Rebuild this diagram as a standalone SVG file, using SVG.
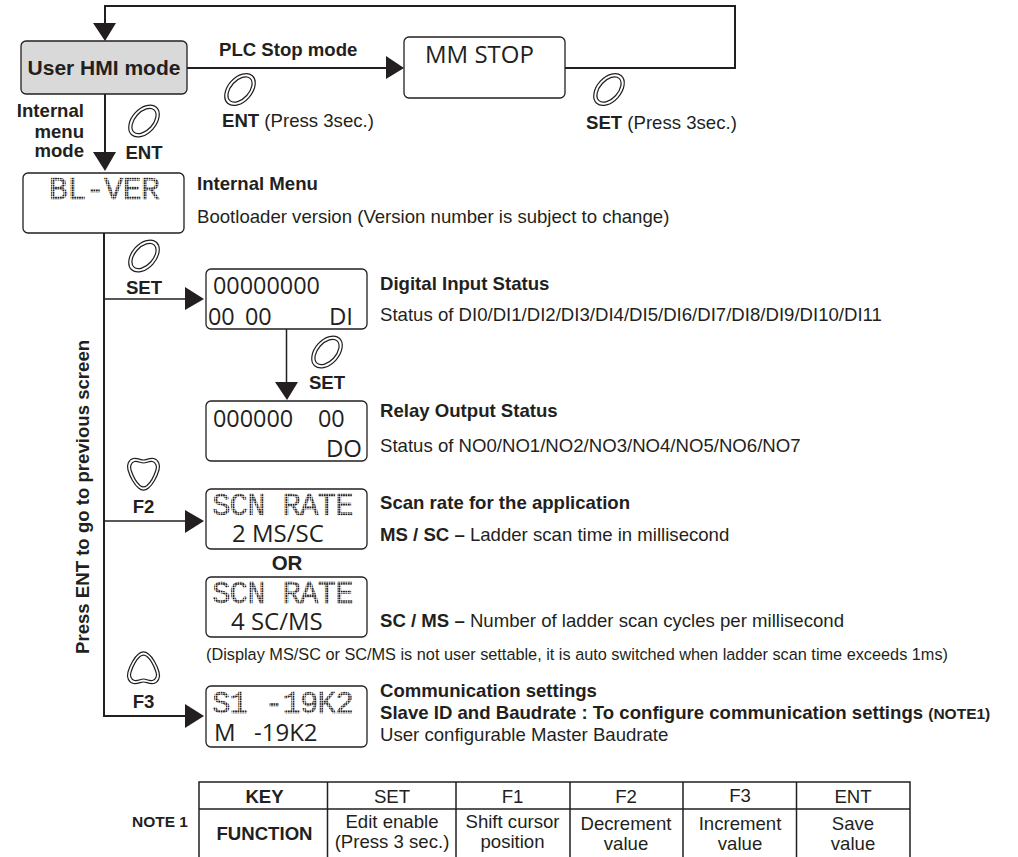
<svg xmlns="http://www.w3.org/2000/svg" width="1018" height="857" viewBox="0 0 1018 857">
<style>
text{font-family:"Liberation Sans",Arial,sans-serif;fill:#231f20;font-size:18.600px}
.b{font-weight:bold}
.m{text-anchor:middle}
.e{text-anchor:end}
.box{fill:#fff;stroke:#231f20;stroke-width:1.3}
.line{fill:none;stroke:#231f20;stroke-width:2}
.thin{stroke-width:1.5}
.arrow{fill:#231f20}
text.lcd{font-family:"Open Sans","Noto Sans",sans-serif;font-size:24px}
text.num{font-size:23.400px}
text.dot{font-family:"Liberation Mono",monospace;font-size:31px;letter-spacing:-1px;fill:url(#dots);stroke:url(#dots);stroke-width:.4}
.btn{fill:#fff;stroke:#231f20;stroke-width:1.2}
.cell{fill:none;stroke:#231f20;stroke-width:1.5}
</style>
<defs>
<pattern id="dots" patternUnits="userSpaceOnUse" width="2.400" height="2.400"><rect width="1.800" height="1.800" fill="#231f20"/></pattern>
<g id="round"><ellipse rx="12" ry="18.500" transform="rotate(42)" class="btn"/><ellipse rx="9" ry="15" transform="rotate(42)" class="btn"/></g>
<g id="down"><path class="btn" d="M-10-15.500C-5-16-3-14 0-14S5-16 10-15.500C15-14.500 17-9 15.500-4C13.500 3 9 11 5 14C2 16.500-2 16.500-5 14C-9 11-13.500 3-15.500-4C-17-9-15-14.500-10-15.500Z"/><path class="btn" d="M-9-12.500C-5-13-3-11 0-11S5-13 9-12.500C12-11.500 14-8 12.500-4C10.500 2 7 8.500 3.500 11.500C1 13.500-1 13.500-3.500 11.500C-7 8.500-10.500 2-12.500-4C-14-8-12-11.500-9-12.500Z"/></g>
<g id="up"><path class="btn" d="M-10 15.500C-5 16-3 14 0 14S5 16 10 15.500C15 14.500 17 9 15.500 4C13.500-3 9-11 5-14C2-16.500-2-16.500-5-14C-9-11-13.500-3-15.500 4C-17 9-15 14.500-10 15.500Z"/><path class="btn" d="M-9 12.500C-5 13-3 11 0 11S5 13 9 12.500C12 11.500 14 8 12.500 4C10.500-2 7-8.500 3.500-11.500C1-13.500-1-13.500-3.500-11.500C-7-8.500-10.500-2-12.500 4C-14 8-12 11.500-9 12.500Z"/></g>
</defs>

<g id="connectors">
<path class="line" d="M105 25V6H735V68H564"/>
<path class="arrow" d="M93 23H116L105 41Z"/>
<path class="line" d="M187 68H388"/>
<path class="arrow" d="M386 56V79L404 68Z"/>
<path class="line" d="M105 94V155"/>
<path class="arrow" d="M93 152H116L105 171Z"/>
<path class="line" d="M104 233V716H187"/>
<path class="line thin" d="M104 299H187"/>
<path class="arrow" d="M185 287V310L204 299Z"/>
<path class="line thin" d="M286.500 329V384"/>
<path class="arrow" d="M275 382H298L287 400Z"/>
<path class="line thin" d="M104 521H187"/>
<path class="arrow" d="M185 510V533L204 521Z"/>
<path class="arrow" d="M185 704V728L204 716Z"/>
</g>

<g id="node-hmi"><rect x="21" y="41" width="166" height="53" rx="5" fill="#d9d9d9" stroke="#231f20" stroke-width="1.300"/><text class="b m" x="104" y="75" style="font-size:21px">User HMI mode</text></g>
<g id="node-mmstop"><rect class="box" x="404" y="37" width="161" height="61" rx="5"/><text class="lcd" x="425" y="63">MM STOP</text></g>
<g id="node-blver"><rect class="box" x="23" y="173" width="161" height="60" rx="5"/><text class="dot m" x="104" y="199" style="font-size:32px;letter-spacing:-.8px">BL-VER</text></g>
<g id="node-di"><rect class="box" x="206" y="269" width="161" height="60" rx="5"/><text class="lcd num" x="213" y="294">00000000</text><text class="lcd num" x="208" y="325">00<tspan x="245">00</tspan></text><text class="lcd e" x="353" y="325">DI</text></g>
<g id="node-do"><rect class="box" x="206" y="401" width="161" height="60" rx="5"/><text class="lcd num" x="213" y="427">000000</text><text class="lcd num" x="318" y="427">00</text><text class="lcd e" x="362" y="457">DO</text></g>
<g id="node-scn1"><rect class="box" x="206" y="489" width="161" height="60" rx="5"/><text class="dot" x="212" y="515">SCN RATE</text><text class="lcd" x="232" y="542">2 MS/SC</text></g>
<g id="node-scn2"><rect class="box" x="206" y="577" width="161" height="60" rx="5"/><text class="dot" x="212" y="603">SCN RATE</text><text class="lcd" x="231" y="630">4 SC/MS</text></g>
<g id="node-s1"><rect class="box" x="206" y="686" width="161" height="61" rx="5"/><text class="dot" x="212" y="713">S1 -19K2</text><text class="lcd" x="214" y="741">M<tspan x="254">-19K2</tspan></text></g>

<g id="buttons">
<use href="#round" x="240" y="89.500"/>
<use href="#round" x="144" y="121"/>
<use href="#round" x="609" y="89.500"/>
<use href="#round" x="144" y="256"/>
<use href="#round" x="327" y="352"/>
<use href="#down" x="143.500" y="474"/>
<use href="#up" x="143.500" y="668"/>
</g>

<g id="labels">
<text class="b" x="219" y="56">PLC Stop mode</text>
<text x="222" y="127"><tspan class="b">ENT</tspan> (Press 3sec.)</text>
<text x="586" y="129"><tspan class="b">SET</tspan> (Press 3sec.)</text>
<text class="b e" x="84" y="117">Internal</text>
<text class="b e" x="84" y="138">menu</text>
<text class="b e" x="84" y="157">mode</text>
<text class="b m" x="144" y="159">ENT</text>
<text class="b m" x="144" y="294">SET</text>
<text class="b m" x="327" y="389">SET</text>
<text class="b m" x="143.500" y="513">F2</text>
<text class="b m" x="143.500" y="708">F3</text>
<text class="b m" x="287" y="570" style="font-size:20.500px">OR</text>
<text class="b" transform="translate(89 654) rotate(-90)">Press ENT to go to previous screen</text>
<text class="b" x="197" y="190">Internal Menu</text>
<text x="197" y="223">Bootloader version (Version number is subject to change)</text>
<text class="b" x="380" y="290">Digital Input Status</text>
<text x="380" y="321">Status of DI0/DI1/DI2/DI3/DI4/DI5/DI6/DI7/DI8/DI9/DI10/DI11</text>
<text class="b" x="380" y="417">Relay Output Status</text>
<text x="380" y="452">Status of NO0/NO1/NO2/NO3/NO4/NO5/NO6/NO7</text>
<text class="b" x="380" y="509">Scan rate for the application</text>
<text x="380" y="541"><tspan class="b">MS / SC  –</tspan> Ladder scan time in millisecond</text>
<text x="380" y="627"><tspan class="b">SC / MS –</tspan> Number of ladder scan cycles per millisecond</text>
<text x="206" y="660" style="font-size:16.300px">(Display MS/SC or SC/MS is not user settable, it is auto switched when ladder scan time exceeds 1ms)</text>
<text class="b" x="380" y="697">Communication settings</text>
<text class="b" x="380" y="719">Slave ID and Baudrate : To configure communication settings <tspan style="font-size:15.500px">(NOTE1)</tspan></text>
<text x="380" y="741">User configurable Master Baudrate</text>
</g>

<g id="note-table">
<path class="cell" d="M199 857V782H910V857M199 809H910M327.500 782V857M456 782V857M570 782V857M683 782V857M796.500 782V857"/>
<text class="b" x="132" y="827" style="font-size:15.500px">NOTE 1</text>
<text class="b m" x="264.500" y="803">KEY</text>
<text class="m" x="392" y="803">SET</text>
<text class="m" x="512.500" y="803">F1</text>
<text class="m" x="626" y="803">F2</text>
<text class="m" x="740" y="802">F3</text>
<text class="m" x="853" y="803">ENT</text>
<text class="b m" x="264.500" y="840">FUNCTION</text>
<text class="m" x="392" y="828">Edit enable</text>
<text class="m" x="392" y="848">(Press 3 sec.)</text>
<text class="m" x="512.500" y="828">Shift cursor</text>
<text class="m" x="512.500" y="848">position</text>
<text class="m" x="626" y="830">Decrement</text>
<text class="m" x="626" y="850">value</text>
<text class="m" x="740" y="830">Increment</text>
<text class="m" x="740" y="850">value</text>
<text class="m" x="853" y="830">Save</text>
<text class="m" x="853" y="850">value</text>
</g>
</svg>
